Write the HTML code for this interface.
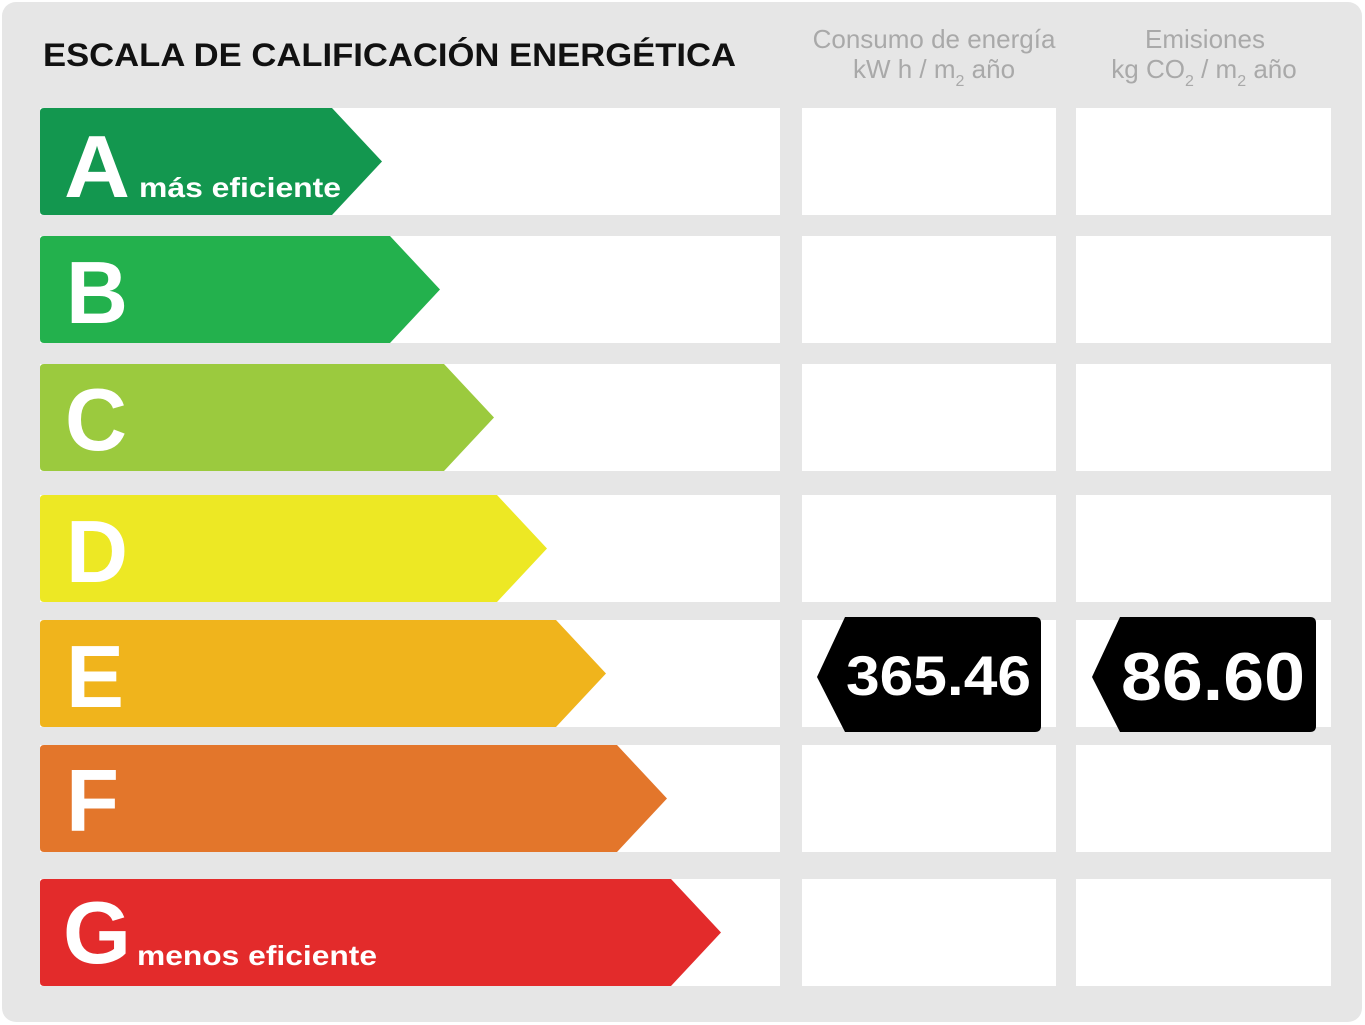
<!DOCTYPE html>
<html><head><meta charset="utf-8"><style>
html,body{margin:0;padding:0;background:#fff;}
svg{display:block;}
text{font-family:"Liberation Sans",Arial,sans-serif;}
</style></head><body>
<svg width="1365" height="1025" viewBox="0 0 1365 1025" xmlns="http://www.w3.org/2000/svg">
<rect x="2" y="2" width="1360" height="1020" rx="14" fill="#e6e6e6"/>
<text x="43" y="66" font-size="32" font-weight="bold" fill="#111" textLength="693" lengthAdjust="spacingAndGlyphs">ESCALA DE CALIFICACIÓN ENERGÉTICA</text>
<g fill="#a9a9a9" font-size="26" text-anchor="middle">
<text x="934" y="48">Consumo de energía</text>
<text x="934" y="78">kW h / m<tspan font-size="16" dy="8">2</tspan><tspan dy="-8"> año</tspan></text>
<text x="1205" y="48">Emisiones</text>
<text x="1204" y="78">kg CO<tspan font-size="16" dy="8">2</tspan><tspan dy="-8"> / m</tspan><tspan font-size="16" dy="8">2</tspan><tspan dy="-8"> año</tspan></text>
</g>
<g fill="#fff">
<rect x="40" y="108" width="740" height="107"/><rect x="802" y="108" width="254" height="107"/><rect x="1076" y="108" width="255" height="107"/>
<rect x="40" y="236" width="740" height="107"/><rect x="802" y="236" width="254" height="107"/><rect x="1076" y="236" width="255" height="107"/>
<rect x="40" y="364" width="740" height="107"/><rect x="802" y="364" width="254" height="107"/><rect x="1076" y="364" width="255" height="107"/>
<rect x="40" y="495" width="740" height="107"/><rect x="802" y="495" width="254" height="107"/><rect x="1076" y="495" width="255" height="107"/>
<rect x="40" y="620" width="740" height="107"/><rect x="802" y="620" width="254" height="107"/><rect x="1076" y="620" width="255" height="107"/>
<rect x="40" y="745" width="740" height="107"/><rect x="802" y="745" width="254" height="107"/><rect x="1076" y="745" width="255" height="107"/>
<rect x="40" y="879" width="740" height="107"/><rect x="802" y="879" width="254" height="107"/><rect x="1076" y="879" width="255" height="107"/>
</g>
<path d="M44 108H332L382 161.5L332 215H44Q40 215 40 211V112Q40 108 44 108Z" fill="#13974f"/>
<path d="M44 236H390L440 289.5L390 343H44Q40 343 40 339V240Q40 236 44 236Z" fill="#23b14d"/>
<path d="M44 364H444L494 417.5L444 471H44Q40 471 40 467V368Q40 364 44 364Z" fill="#9bca3e"/>
<path d="M44 495H497L547 548.5L497 602H44Q40 602 40 598V499Q40 495 44 495Z" fill="#ede824"/>
<path d="M44 620H556L606 673.5L556 727H44Q40 727 40 723V624Q40 620 44 620Z" fill="#f0b41c"/>
<path d="M44 745H617L667 798.5L617 852H44Q40 852 40 848V749Q40 745 44 745Z" fill="#e3762b"/>
<path d="M44 879H671L721 932.5L671 986H44Q40 986 40 982V883Q40 879 44 879Z" fill="#e32b2b"/>
<g fill="#fff" font-weight="bold" font-size="88">
<text x="64" y="197" textLength="66" lengthAdjust="spacingAndGlyphs">A</text>
<text x="66" y="323" textLength="62" lengthAdjust="spacingAndGlyphs">B</text>
<text x="65" y="450" textLength="62" lengthAdjust="spacingAndGlyphs">C</text>
<text x="66" y="582" textLength="62" lengthAdjust="spacingAndGlyphs">D</text>
<text x="66" y="707" textLength="58" lengthAdjust="spacingAndGlyphs">E</text>
<text x="66" y="831" textLength="53" lengthAdjust="spacingAndGlyphs">F</text>
<text x="63" y="963" textLength="68" lengthAdjust="spacingAndGlyphs">G</text>
</g>
<text x="139" y="197" fill="#fff" font-size="28" font-weight="bold" textLength="202" lengthAdjust="spacingAndGlyphs">más eficiente</text>
<text x="137" y="965" fill="#fff" font-size="28" font-weight="bold" textLength="240" lengthAdjust="spacingAndGlyphs">menos eficiente</text>
<path d="M845 617H1035Q1041 617 1041 623V726Q1041 732 1035 732H845L817 677Z" fill="#000"/>
<path d="M1120 617H1310Q1316 617 1316 623V726Q1316 732 1310 732H1120L1092 677Z" fill="#000"/>
<text x="846" y="695" fill="#fff" font-size="56" font-weight="bold" textLength="185" lengthAdjust="spacingAndGlyphs">365.46</text>
<text x="1121" y="700" fill="#fff" font-size="68" font-weight="bold" textLength="184" lengthAdjust="spacingAndGlyphs">86.60</text>
</svg>
</body></html>
